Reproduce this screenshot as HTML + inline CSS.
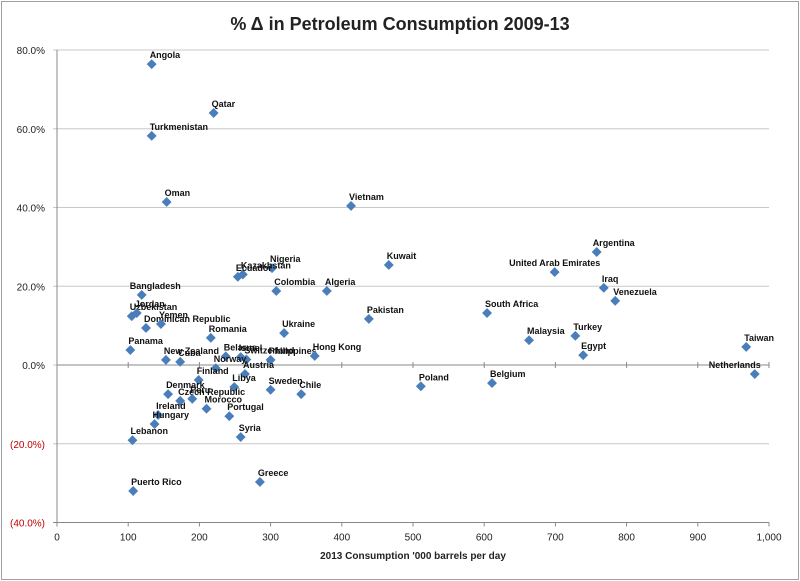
<!DOCTYPE html>
<html><head><meta charset="utf-8"><style>
body{margin:0;background:#fff;}
svg{display:block;font-family:"Liberation Sans",sans-serif;}
</style></head><body>
<svg id="c" width="800" height="581">
<rect x="1.5" y="1.5" width="797" height="578" fill="#fff" stroke="#a0a0a0"/>
<text x="400" y="30" text-anchor="middle" font-size="18" font-weight="bold" fill="#222">% Δ in Petroleum Consumption 2009-13</text>
<text x="413" y="559" text-anchor="middle" font-size="10" font-weight="bold" fill="#222">2013 Consumption '000 barrels per day</text>
<g id="grid"></g><g id="pts"></g>
</svg>
<script>
const names=["Angola","Qatar","Turkmenistan","Oman","Vietnam","Argentina","United Arab Emirates","Iraq","Venezuela","Kuwait","Nigeria","Kazakhstan","Ecuador","Algeria","Colombia","Bangladesh","Pakistan","South Africa","Malaysia","Turkey","Egypt","Taiwan","Netherlands","Uzbekistan","Jordan","Dominican Republic","Yemen","Panama","Romania","Ukraine","New Zealand","Cuba","Belarus","Israel","Switzerland","Philippines","Hong Kong","Austria","Norway","Finland","Libya","Sweden","Chile","Denmark","Czech Republic","Peru","Morocco","Portugal","Ireland","Hungary","Syria","Lebanon","Puerto Rico","Greece","Poland","Belgium"];
const consumption=[133,220,133,154,413,758,699,768,784,466,302,261,254,379,308,119,438,604,663,728,739,968,980,105,112,125,146,103,216,319,153,173,237,258,266,300,362,264,223,199,249,300,343,156,173,190,210,242,142,137,258,106,107,285,511,611];
const pctChange=[76.4,64.0,58.2,41.4,40.4,28.7,23.6,19.6,16.3,25.4,24.6,23.0,22.4,18.8,18.8,17.8,11.7,13.2,6.3,7.4,2.5,4.6,-2.3,12.4,13.2,9.4,10.4,3.8,6.9,8.1,1.3,0.8,2.2,2.0,1.4,1.3,2.3,-2.3,-0.8,-3.8,-5.6,-6.3,-7.4,-7.4,-9.1,-8.6,-11.1,-13.0,-12.7,-15.0,-18.3,-19.1,-32.0,-29.7,-5.4,-4.6];
const yTicks=[80,60,40,20,0,-20,-40];
const yTickLabels=["80.0%","60.0%","40.0%","20.0%","0.0%","(20.0%)","(40.0%)"];
const xTicks=[0,100,200,300,400,500,600,700,800,900,1000];
const xTickLabels=["0","100","200","300","400","500","600","700","800","900","1,000"];
const X0=57,X1=769,Y0=522.5,Y1=50;
const xs=v=>X0+v/1000*(X1-X0);
const ys=v=>Y0-(v+40)/120*(Y0-Y1);
const NS="http://www.w3.org/2000/svg";
const g=document.getElementById('grid'),p=document.getElementById('pts');
function mk(tag,at,parent){const e=document.createElementNS(NS,tag);for(const k in at)e.setAttribute(k,at[k]);parent.appendChild(e);return e;}
yTicks.forEach((t,i)=>{
 const l=mk('line',{x1:X0-4,x2:X1,y1:ys(t),y2:ys(t),stroke:t===-40?'#888':'#c8c8c8'},g);
 
 
 const tx=mk('text',{x:X0-12,y:ys(t)+4,'text-anchor':'end','font-size':'10',fill:t<0?'#c00000':'#222'},g);
 tx.textContent=yTickLabels[i];
 
 
});
const ax=mk('line',{x1:X0,x2:X0,y1:Y1,y2:Y0,stroke:'#888'},g);


const zl=mk('line',{x1:X0,x2:X1,y1:ys(0),y2:ys(0),stroke:'#888'},g);


xTicks.forEach((t,i)=>{
 const tk=mk('line',{x1:xs(t),x2:xs(t),y1:Y0,y2:Y0+4,stroke:'#888'},g);
 
 
 const tk2=mk('line',{x1:xs(t),x2:xs(t),y1:ys(0)-3,y2:ys(0)+3,stroke:'#888'},g);
 
 
 const tx=mk('text',{x:xs(t),y:Y0+18,'text-anchor':'middle','font-size':'10',fill:'#222'},g);
 tx.textContent=xTickLabels[i];
 
 
});
const labelAdjust={"Netherlands":{anchor:'end',dx:6,dy:0},"Bangladesh":{anchor:'start',dx:-12,dy:0},"United Arab Emirates":{anchor:'middle',dx:0,dy:0},"Argentina":{anchor:'start',dx:-4,dy:0}};
names.forEach((n,i)=>{
 const cx=xs(consumption[i]),cy=ys(pctChange[i]);
 const m=mk('rect',{x:cx-3.5,y:cy-3.5,width:7,height:7,fill:'#4a7ebb',transform:`rotate(45 ${cx} ${cy})`},p);
 
 
 const a=labelAdjust[n]||{anchor:'start',dx:-2,dy:0};
 const t=mk('text',{x:cx+a.dx,y:cy-6+a.dy,'text-anchor':a.anchor,'font-size':'9','font-weight':'bold',fill:'#111'},p);
 t.textContent=n;
 
 
});
</script>
</body></html>
